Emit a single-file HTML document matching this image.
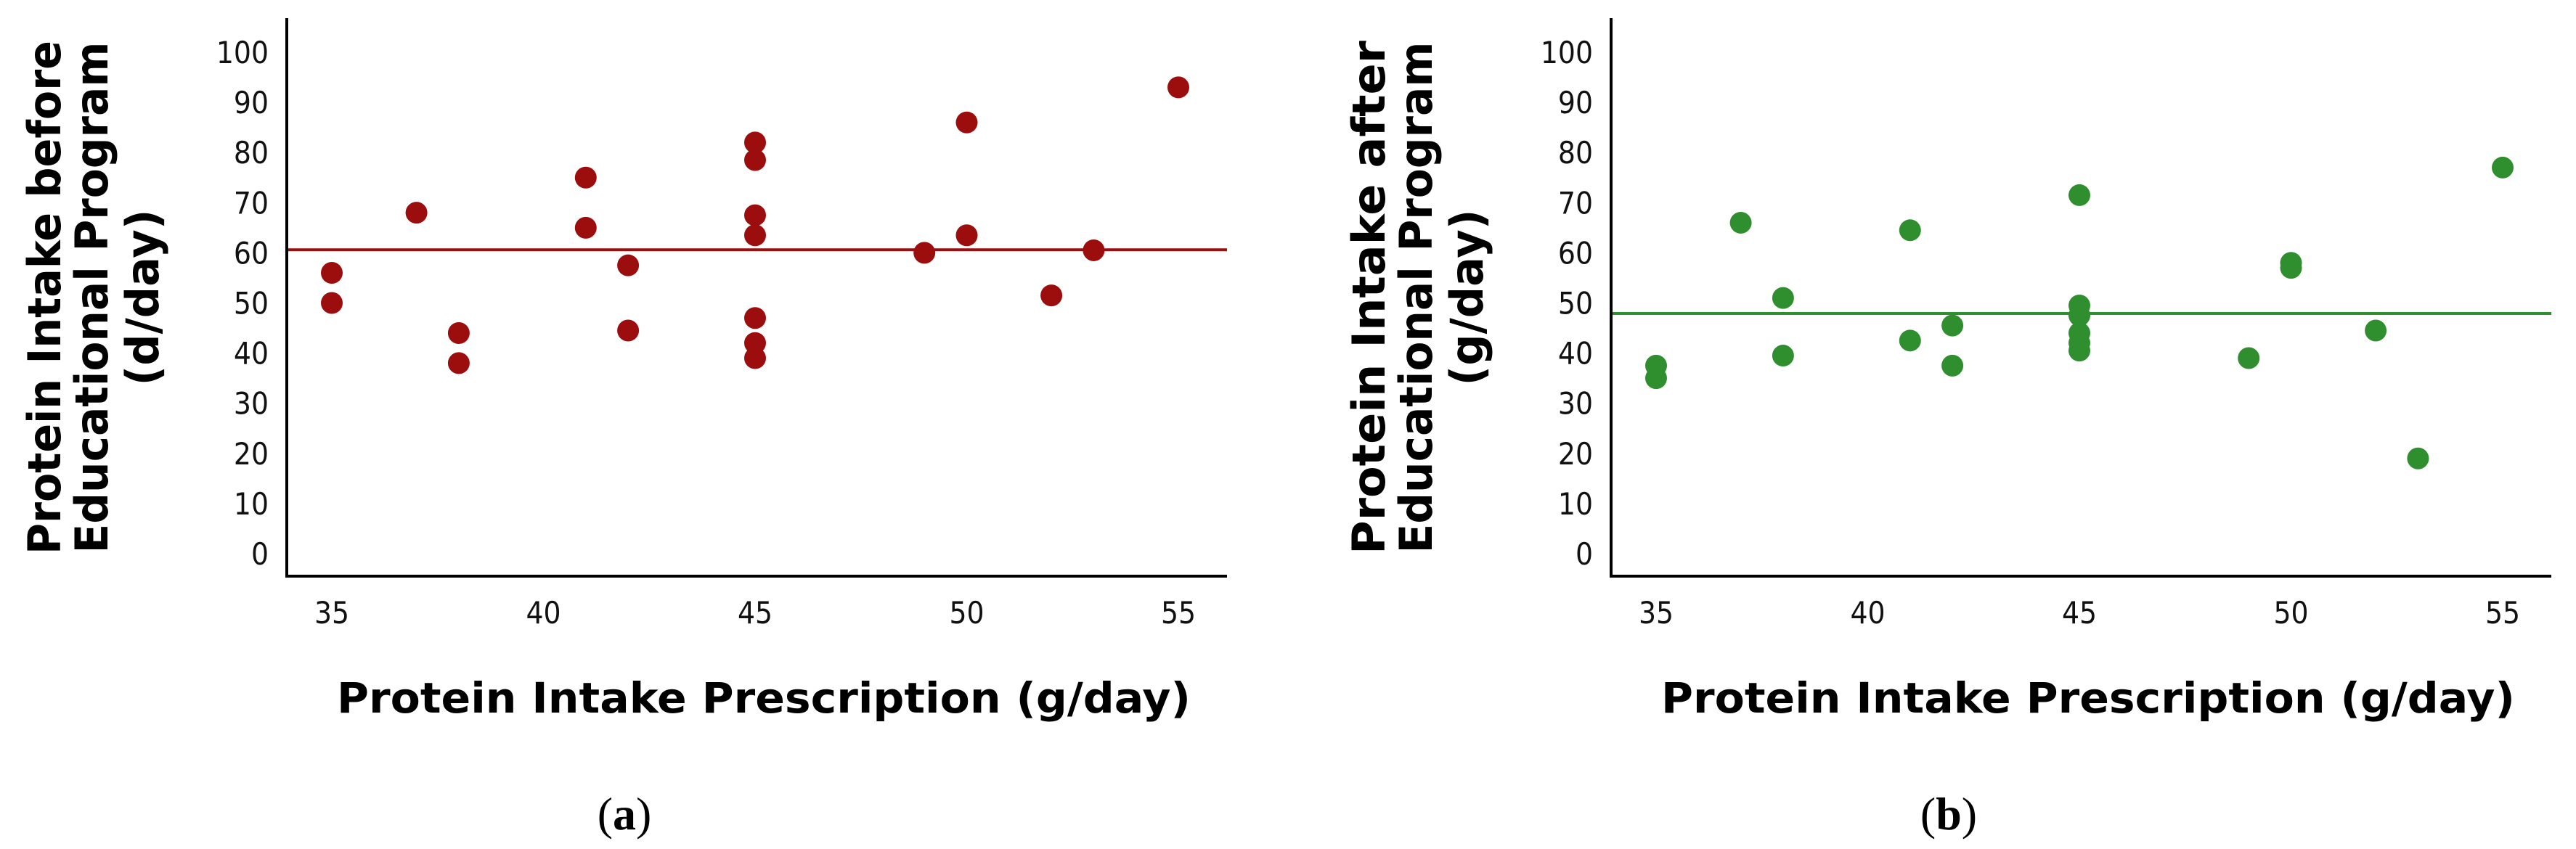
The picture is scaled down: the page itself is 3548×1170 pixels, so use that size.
<!DOCTYPE html>
<html><head><meta charset="utf-8"><style>
html,body{margin:0;padding:0;background:#fff;}
svg{display:block;}
</style></head><body>
<svg id="chart" width="3548" height="1170" viewBox="0 0 3548 1170" xmlns="http://www.w3.org/2000/svg"></svg>
<script>
const xTicks = [35, 40, 45, 50, 55];
const yTicks = [0, 10, 20, 30, 40, 50, 60, 70, 80, 90, 100];
const beforeX = [35, 35, 37, 38, 38, 41, 41, 42, 42, 45, 45, 45, 45, 45, 45, 45, 49, 50, 50, 52, 53, 55];
const beforeY = [56, 50, 68, 44, 38, 75, 65, 57.5, 44.5, 82, 78.5, 67.5, 63.5, 47, 42, 39, 60, 86, 63.5, 51.5, 60.5, 93];
const afterX = [35, 35, 37, 38, 38, 41, 41, 42, 42, 45, 45, 45, 45, 45, 45, 49, 50, 50, 52, 53, 55];
const afterY = [37.5, 35, 66, 51, 39.5, 64.5, 42.5, 45.5, 37.5, 71.5, 49.5, 47.5, 44, 42, 40.5, 39, 58, 57, 44.5, 19, 77];
const meanBefore = 60.6;
const meanAfter = 47.9;

const NS = "http://www.w3.org/2000/svg";
const svg = document.getElementById('chart');
function mk(tag, attrs, parent, text) {
  const e = document.createElementNS(NS, tag);
  for (const k in attrs) e.setAttribute(k, attrs[k]);
  if (text !== undefined) e.textContent = text;
  parent.appendChild(e);
  return e;
}
function xScale(v) { return 457 + (v - 35) * 58.3; }
function yScale(v) { return 763 - v * 6.91; }

function panel(off, xs, ys, mean, color, lines, tag, key) {
  const g = mk('g', {transform: 'translate(' + off + ',0)'}, svg);
  
  
  const ya = mk('line', {x1: 395, y1: 25, x2: 395, y2: 795, stroke: '#000', 'stroke-width': 4}, g);
  
  
  const xa = mk('line', {x1: 393, y1: 794, x2: 1690, y2: 794, stroke: '#000', 'stroke-width': 4}, g);
  
  
  yTicks.forEach(function (t) {
    const tl = mk('text', {x: 370, y: yScale(t) + 15, 'text-anchor': 'end', 'font-family': '"DejaVu Sans Condensed","DejaVu Sans",sans-serif', 'font-size': 42, fill: '#111'}, g, String(t));
    
    
  });
  xTicks.forEach(function (t) {
    const tl = mk('text', {x: xScale(t), y: 859, 'text-anchor': 'middle', 'font-family': '"DejaVu Sans Condensed","DejaVu Sans",sans-serif', 'font-size': 42, fill: '#111'}, g, String(t));
    
    
  });
  const ml = mk('line', {x1: 397, x2: 1690, y1: yScale(mean), y2: yScale(mean), stroke: color, 'stroke-width': 4}, g);
  
  
  for (let i = 0; i < xs.length; i++) {
    const c = mk('circle', {cx: xScale(xs[i]), cy: yScale(ys[i]), r: 15, fill: color}, g);
    
    
  }
  const yt = mk('g', {transform: 'translate(0,410) rotate(-90)'}, g);
  
  
  const lx = [62, 127, 197];
  const lens = [708, 705, 243];
  lines.forEach(function (s, i) {
    const tx = mk('text', {x: 0, y: lx[i] + 21, 'text-anchor': 'middle', 'font-family': '"DejaVu Sans","Liberation Sans",sans-serif', 'font-weight': 'bold', 'font-size': 62, fill: '#000', textLength: lens[i], lengthAdjust: 'spacingAndGlyphs'}, yt, s);
    
    
  });
  const xt = mk('text', {x: 1052, y: 982, 'text-anchor': 'middle', 'font-family': '"DejaVu Sans","Liberation Sans",sans-serif', 'font-weight': 'bold', 'font-size': 58, fill: '#000', textLength: 1176, lengthAdjust: 'spacingAndGlyphs'}, g, 'Protein Intake Prescription (g/day)');
  
  
  const lab = mk('text', {x: 860, y: 1143, 'text-anchor': 'middle', 'font-family': '"Liberation Serif",serif', 'font-size': 64, fill: '#000'}, g);
  
  
  mk('tspan', {}, lab, '(');
  mk('tspan', {'font-weight': 'bold'}, lab, tag);
  mk('tspan', {}, lab, ')');
}
panel(0, beforeX, beforeY, meanBefore, '#9c0d0d', ['Protein Intake before', 'Educational Program', '(d/day)'], 'a', 'before');
panel(1824, afterX, afterY, meanAfter, '#2f8f2f', ['Protein Intake after', 'Educational Program', '(g/day)'], 'b', 'after');
</script>
</body></html>
